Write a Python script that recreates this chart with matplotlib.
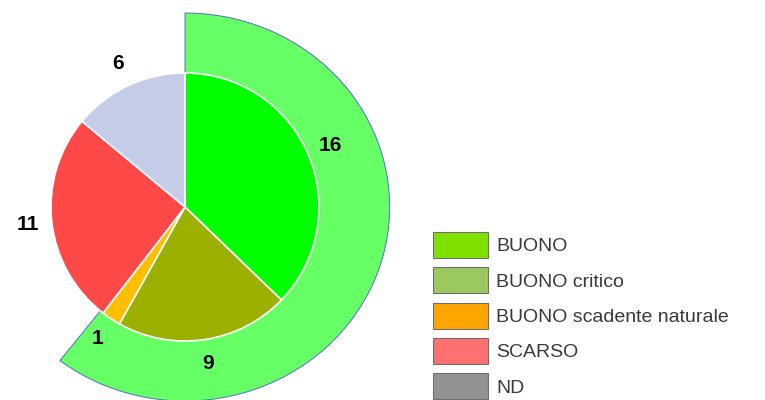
import matplotlib
matplotlib.use("Agg")
import matplotlib.pyplot as plt
from matplotlib.patches import Patch
from matplotlib.transforms import Affine2D

categories = ["BUONO", "BUONO critico", "BUONO scadente naturale", "SCARSO", "ND"]
counts = [16, 9, 1, 11, 6]
pie_colors = ["#00FF00", "#9CB000", "#FFBE00", "#FF4848", "#C4CCE8"]
legend_colors = ["#80E000", "#9CC860", "#FFA500", "#FF7070", "#929292"]
ring_color = "#66FF66"
good_groups = [0, 1, 2]  # categories forming the outer ring

fig = plt.figure(figsize=(7.65, 4.0), dpi=100)
ax = fig.add_axes([0, 0, 1, 1])

cx, cy = 185, 193
r_in, r_out = 134, 194
ring_stretch = 1.055

good_total = sum(counts[i] for i in good_groups)
rest_total = sum(counts) - good_total

# outer ring for the "BUONO" group (drawn as a sector behind the inner pie)
ring, _ = ax.pie([good_total, rest_total], radius=r_out, center=(cx, cy), startangle=90,
                 counterclock=False, colors=[ring_color, "white"],
                 wedgeprops=dict(linewidth=0.7))
stretch = Affine2D().translate(-cx, -cy).scale(ring_stretch, 1.0).translate(cx, cy)
for w in ring:
    w.set_transform(stretch + ax.transData)
ring[0].set_edgecolor("#5070c0")
ring[1].set_visible(False)

# inner pie
vals_iter = iter(counts)
ax.pie(counts, radius=r_in, center=(cx, cy), startangle=90, counterclock=False,
       colors=pie_colors, wedgeprops=dict(edgecolor="white", linewidth=1.2),
       autopct=lambda p: f"{next(vals_iter)}", pctdistance=158 / r_in,
       textprops=dict(fontsize=15, fontweight="bold", color="black",
                      family=["Liberation Sans", "DejaVu Sans"]))

ax.set_xlim(0, 765)
ax.set_ylim(0, 400)
ax.set_aspect("equal")
ax.axis("off")

handles = [Patch(facecolor=c, edgecolor="#707070", linewidth=0.8) for c in legend_colors]
leg = fig.legend(handles, categories, loc="upper left",
                 bbox_to_anchor=(433 / 765, 1 - 232 / 400), frameon=False,
                 borderaxespad=0, borderpad=0, handlelength=2.83, handleheight=1.68,
                 handletextpad=0.41, labelspacing=0.48,
                 prop=dict(family="Liberation Sans", size=14))
for t in leg.get_texts():
    t.set_color("#3a3a3a")

fig.savefig("out.png", dpi=100)
